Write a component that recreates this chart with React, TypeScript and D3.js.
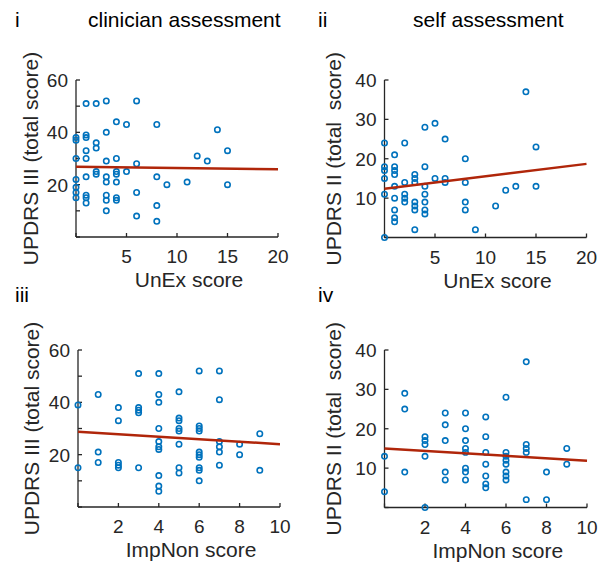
import React from "react";
import * as d3 from "d3";

// Panel i: UnEx score vs UPDRS III
const unexI = [1, 2, 3, 6, 4, 5, 8, 14, 3, 0, 0, 1, 1, 2, 2, 1, 15, 0, 1, 3, 4, 6, 12, 13, 2, 2, 4, 4, 5, 1, 3, 3, 4, 8, 9, 11, 15, 0, 0, 0, 0, 1, 1, 1, 3, 3, 4, 4, 6, 3, 6, 8, 8];
const updrs3I = [51, 51, 52, 52, 44, 43, 43, 41, 40, 38, 37, 39, 38, 36, 34, 33, 33, 30, 30, 29, 30, 28, 31, 29, 25, 24, 25, 24, 25, 23, 23, 21, 21, 23, 20, 21, 20, 22, 19, 17, 15, 16, 15, 13, 16, 14, 15, 14, 17, 10, 8, 12, 6];
const fitI = [26.8, 25.9];

// Panel ii: UnEx score vs UPDRS II
const unexII = [0, 0, 0, 0, 0, 0, 1, 1, 1, 1, 1, 1, 1, 1, 1, 2, 2, 2, 2, 2, 3, 3, 3, 3, 3, 3, 3, 4, 4, 4, 4, 4, 4, 4, 5, 5, 6, 6, 6, 8, 8, 8, 8, 9, 11, 12, 13, 14, 15, 15];
const updrs2II = [24, 18, 17, 15, 11, 0, 21, 18, 17, 16, 13, 10, 7, 5, 4, 24, 14, 11, 10, 9, 16, 15, 14, 9, 8, 7, 2, 28, 18, 13, 11, 9, 7, 6, 29, 15, 25, 15, 14, 20, 14, 9, 7, 2, 8, 12, 13, 37, 23, 13];
const fitII = [12.4, 18.7];

// Panel iii: ImpNon score vs UPDRS III
const impIII = [0, 0, 1, 1, 1, 2, 2, 2, 2, 2, 3, 3, 3, 3, 3, 4, 4, 4, 4, 4, 4, 4, 4, 4, 4, 5, 5, 5, 5, 5, 5, 5, 5, 6, 6, 6, 6, 6, 6, 6, 6, 6, 6, 7, 7, 7, 7, 7, 7, 8, 8, 9, 9];
const updrs3III = [39, 15, 43, 21, 17, 38, 33, 17, 16, 15, 51, 38, 37, 36, 15, 51, 43, 40, 30, 25, 23, 22, 12, 8, 6, 44, 34, 33, 30, 29, 24, 15, 13, 52, 31, 30, 29, 21, 20, 19, 15, 14, 10, 52, 41, 25, 23, 21, 16, 24, 20, 28, 14];
const fitIII = [28.8, 24.0];

// Panel iv: ImpNon score vs UPDRS II
const impIV = [0, 0, 1, 1, 1, 2, 2, 2, 2, 2, 3, 3, 3, 3, 3, 4, 4, 4, 4, 4, 4, 4, 4, 5, 5, 5, 5, 5, 5, 5, 6, 6, 6, 6, 6, 6, 6, 6, 7, 7, 7, 7, 7, 8, 8, 9, 9];
const updrs2IV = [13, 4, 29, 25, 9, 18, 17, 16, 13, 0, 24, 21, 17, 9, 7, 24, 20, 17, 15, 14, 10, 9, 7, 23, 18, 14, 11, 8, 6, 5, 28, 14, 13, 12, 11, 9, 8, 7, 37, 16, 15, 14, 2, 9, 2, 15, 11];
const fitIV = [15.0, 11.9];

const xTicksUnEx = [0, 5, 10, 15, 20];
const xTicksImp = [0, 2, 4, 6, 8, 10];
const yTicks3 = [0, 10, 20, 30, 40, 50, 60];
const yLabels3 = [20, 40, 60];
const yTicks2 = [0, 10, 20, 30, 40];
const yLabels2 = [10, 20, 30, 40];
const xLabelsUnEx = [5, 10, 15, 20];
const xLabelsImp = [2, 4, 6, 8, 10];

const FONT = "'Liberation Sans', Arial, Helvetica, sans-serif";
const AX = "#262626";
const BLUE = "#0072BD";
const RED = "#B0260A";

type PanelProps = {
  x0: number; x1: number; yTop: number; yBot: number;
  xDom: [number, number]; yDom: [number, number];
  xs: number[]; ys: number[]; fit: number[];
  xTicks: number[]; xLabels: number[]; yTicks: number[]; yLabels: number[];
  xTitle: string; yTitle: string; yTitleX: number; xTitleOffset: number;
};

function Panel(p: PanelProps) {
  const x = d3.scaleLinear().domain(p.xDom).range([p.x0, p.x1]);
  const y = d3.scaleLinear().domain(p.yDom).range([p.yBot, p.yTop]);
  const line = d3.line<[number, number]>().x((d) => x(d[0])).y((d) => y(d[1]));
  const fitPts: [number, number][] = [[p.xDom[0], p.fit[0]], [p.xDom[1], p.fit[1]]];
  const tl = 4;
  return (
    <g>
      <line x1={p.x0} y1={p.yTop} x2={p.x0} y2={p.yBot} stroke={AX} strokeWidth={1.3} />
      <line x1={p.x0} y1={p.yBot} x2={p.x1} y2={p.yBot} stroke={AX} strokeWidth={1.3} />
      {p.yTicks.map((t) => (
        <line key={"yt" + t} x1={p.x0} x2={p.x0 + tl} y1={y(t)} y2={y(t)} stroke={AX} strokeWidth={1.3} />
      ))}
      {p.xTicks.map((t) => (
        <line key={"xt" + t} x1={x(t)} x2={x(t)} y1={p.yBot} y2={p.yBot - tl} stroke={AX} strokeWidth={1.3} />
      ))}
      {p.yLabels.map((t) => (
        <text key={"yl" + t} x={p.x0 - 8} y={y(t)} dy="0.36em" textAnchor="end" fontSize={19} fill={AX} fontFamily={FONT}>
          {t}
        </text>
      ))}
      {p.xLabels.map((t) => (
        <text key={"xl" + t} x={x(t)} y={p.yBot + 26} textAnchor="middle" fontSize={19} fill={AX} fontFamily={FONT}>
          {t}
        </text>
      ))}
      <text x={(p.x0 + p.x1) / 2 + p.xTitleOffset} y={p.yBot + 50} textAnchor="middle" fontSize={21} fill={AX} fontFamily={FONT}>
        {p.xTitle}
      </text>
      <text
        transform={`translate(${p.yTitleX},${(p.yTop + p.yBot) / 2}) rotate(-90)`}
        textAnchor="middle"
        fontSize={21}
        fill={AX}
        fontFamily={FONT}
        style={{ whiteSpace: "pre" }}
      >
        {p.yTitle}
      </text>
      {p.xs.map((v, i) => (
        <circle key={"c" + i} cx={x(v)} cy={y(p.ys[i])} r={2.7} fill="none" stroke={BLUE} strokeWidth={1.6} />
      ))}
      <path d={line(fitPts) || ""} stroke={RED} strokeWidth={2.5} fill="none" />
    </g>
  );
}

export default function App() {
  return (
    <svg width={611} height={565} style={{ position: "absolute", left: 0, top: 0, background: "#fff" }}>
      <rect width={611} height={565} fill="#fff" />
      <text x={15} y={27} fontSize={21} fill="#000" fontFamily={FONT}>i</text>
      <text x={88} y={27} fontSize={21} fill="#000" fontFamily={FONT}>clinician assessment</text>
      <text x={318} y={27} fontSize={21} fill="#000" fontFamily={FONT}>ii</text>
      <text x={413} y={27} fontSize={21} fill="#000" fontFamily={FONT}>self assessment</text>
      <text x={15} y={302} fontSize={21} fill="#000" fontFamily={FONT}>iii</text>
      <text x={318} y={302} fontSize={21} fill="#000" fontFamily={FONT}>iv</text>
      <Panel x0={76} x1={278} yTop={80} yBot={237} xDom={[0, 20]} yDom={[0, 60]} xs={unexI} ys={updrs3I} fit={fitI}
        xTicks={xTicksUnEx} xLabels={xLabelsUnEx} yTicks={yTicks3} yLabels={yLabels3}
        xTitle="UnEx score" yTitle="UPDRS III (total score)" yTitleX={38} xTitleOffset={12} />
      <Panel x0={384.5} x1={586.5} yTop={80} yBot={237.5} xDom={[0, 20]} yDom={[0, 40]} xs={unexII} ys={updrs2II} fit={fitII}
        xTicks={xTicksUnEx} xLabels={xLabelsUnEx} yTicks={yTicks2} yLabels={yLabels2}
        xTitle="UnEx score" yTitle={"UPDRS II (total  score)"} yTitleX={341} xTitleOffset={12} />
      <Panel x0={78} x1={280} yTop={350} yBot={507} xDom={[0, 10]} yDom={[0, 60]} xs={impIII} ys={updrs3III} fit={fitIII}
        xTicks={xTicksImp} xLabels={xLabelsImp} yTicks={yTicks3} yLabels={yLabels3}
        xTitle="ImpNon score" yTitle="UPDRS III (total score)" yTitleX={39} xTitleOffset={12} />
      <Panel x0={384.5} x1={587} yTop={350} yBot={507.5} xDom={[0, 10]} yDom={[0, 40]} xs={impIV} ys={updrs2IV} fit={fitIV}
        xTicks={xTicksImp} xLabels={xLabelsImp} yTicks={yTicks2} yLabels={yLabels2}
        xTitle="ImpNon score" yTitle={"UPDRS II (total  score)"} yTitleX={341} xTitleOffset={12} />
    </svg>
  );
}
